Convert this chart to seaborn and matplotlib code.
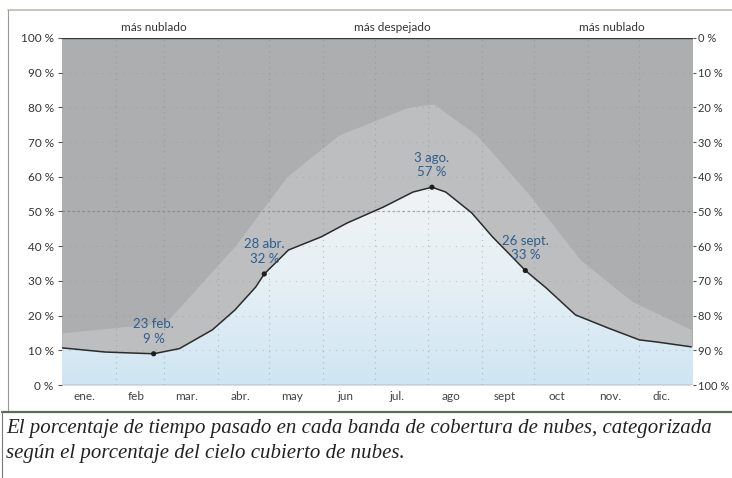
import numpy as np
import pandas as pd
import matplotlib
matplotlib.use("Agg")
import matplotlib.pyplot as plt
import seaborn as sns
from matplotlib.patches import Polygon

sns.set_theme(style="white")
plt.rcParams['font.family'] = ['Lato', 'DejaVu Sans']

# ---- data ----
days = [0, 25, 53, 68, 87, 100, 112, 117, 131, 150, 165, 186, 203, 214,
        222, 237, 249, 261, 268, 280, 297, 316, 334, 344, 364]
clear_pct = [10.7, 9.5, 9, 10.5, 15.9, 21.6, 28.2, 32, 38.9, 42.7, 46.7, 51.3,
             55.6, 57, 55.6, 49.6, 42.7, 36.6, 33, 28, 20.2, 16.4, 13, 12.4, 11]
# faint lighter band above the line (approximate)
band_days = [0, 60, 100, 130, 160, 200, 215, 240, 270, 300, 330, 364]
band_pct = [15, 18, 40, 60, 72, 80, 81, 72, 55, 36, 24, 16]

ann_days = [53, 117, 214, 268]
ann_pct = [9, 32, 57, 33]
ann_text = ["23 feb.\n9 %", "28 abr.\n32 %", "3 ago.\n57 %", "26 sept.\n33 %"]

month_days = [13, 43, 72, 103, 133, 164, 194, 225, 256, 286, 317, 347]
month_labels = ["ene.", "feb", "mar.", "abr.", "may", "jun", "jul.", "ago",
                "sept", "oct", "nov.", "dic."]
month_starts = [0, 31, 59, 90, 120, 151, 181, 212, 243, 273, 304, 334]
left_ticks = [0, 10, 20, 30, 40, 50, 60, 70, 80, 90, 100]
top_labels = ["más nublado", "más despejado", "más nublado"]
top_label_days = [53, 191, 318]
caption = ("El porcentaje de tiempo pasado en cada banda de cobertura de nubes, categorizada\n"
           "según el porcentaje del cielo cubierto de nubes.")

df = pd.DataFrame({"day": days, "pct": clear_pct})
ann_df = pd.DataFrame({"day": ann_days, "pct": ann_pct})

W, H = 732, 478
fig = plt.figure(figsize=(W / 100, H / 100), dpi=100)
fig.patch.set_facecolor("white")
ax = fig.add_axes([62 / W, 1 - 385 / H, (693 - 62) / W, (385 - 38) / H])
ax.set_xlim(0, 365)
ax.set_ylim(0, 100)

# background gray
ax.set_facecolor("#acaeaf")
# lighter mound band (subtle)
ax.fill_between(band_days, 0, band_pct, color="#bcbebf", lw=0, zorder=0.5)

# gradient below the line
grad = np.linspace(0, 1, 256).reshape(-1, 1)
cmap = matplotlib.colors.LinearSegmentedColormap.from_list(
    "sky", ["#cfe5f3", "#e6f0f5", "#f1f3f4"])
im = ax.imshow(grad, extent=[0, 365, 0, 60], origin="lower", aspect="auto",
               cmap=cmap, zorder=1)
poly_pts = [(0, 0)] + list(zip(days, clear_pct)) + [(365, clear_pct[-1]), (365, 0)]
poly = Polygon(poly_pts, closed=True, transform=ax.transData, facecolor="none", edgecolor="none")
ax.add_patch(poly)
im.set_clip_path(poly)

# faint grid
for d in month_starts[1:]:
    ax.axvline(d, color="#7f8283", lw=0.8, ls=(0, (1, 4)), alpha=0.45, zorder=1.5)
for v in range(10, 100, 10):
    ax.axhline(v, color="#8a8c8d", lw=0.8, ls=(0, (1, 5)), alpha=0.4, zorder=1.5)
ax.axhline(50, color="#6f7273", lw=0.9, ls=(0, (2, 2)), alpha=0.55, zorder=1.5)

# main line
sns.lineplot(data=df, x="day", y="pct", ax=ax, color="#2b2b2b", lw=1.1, zorder=3)
sns.scatterplot(data=ann_df, x="day", y="pct", ax=ax, color="#1e1e1e", s=14,
                edgecolor="none", zorder=4)
for d, p, t in zip(ann_days, ann_pct, ann_text):
    ax.annotate(t, (d, p), xytext=(0, 9), textcoords="offset pixels",
                ha="center", va="bottom", fontsize=9.5, color="#2f5d8c",
                linespacing=1.25, zorder=5)

# axes lines
ax.axhline(100, color="#3a3a3a", lw=1.0, zorder=4)
ax.axhline(0, color="#4a4a4a", lw=0.9, zorder=4)
for s in ax.spines.values():
    s.set_visible(False)

ax.set_xlabel("")
ax.set_ylabel("")
ax.set_xticks(month_days)
ax.set_xticklabels(month_labels, fontsize=8.5, color="#444444")
ax.set_yticks(left_ticks)
ax.set_yticklabels([f"{v} %" for v in left_ticks], fontsize=8.5, color="#333333")
ax.tick_params(axis="x", length=0, pad=4)
ax.tick_params(axis="y", length=3, width=0.8, color="#555555", pad=3, left=True)

ax2 = ax.twinx()
ax2.set_ylim(100, 0)
ax2.set_yticks(left_ticks)
ax2.set_yticklabels([f"{v} %" for v in left_ticks], fontsize=8, color="#333333")
ax2.tick_params(axis="y", length=2, width=0.8, color="#555555", pad=1.5, right=True)
for s in ax2.spines.values():
    s.set_visible(False)
ax2.grid(False)

for d, t in zip(top_label_days, top_labels):
    ax.text(d, 101.5, t, ha="center", va="bottom", fontsize=8.5, color="#333333")

# frame and caption
fig.add_artist(plt.Line2D([8 / W, 1], [1 - 10 / H] * 2, color="#b9bfae", lw=1.2))
fig.add_artist(plt.Line2D([8 / W] * 2, [1 - 10 / H, 1 - 410 / H], color="#9a9a9a", lw=0.8))
fig.add_artist(plt.Line2D([2 / W, 1], [1 - 412 / H] * 2, color="#5f6a58", lw=1.6))
fig.add_artist(plt.Line2D([2 / W] * 2, [1 - 412 / H, 0], color="#777777", lw=0.8))
fig.text(6 / W, 1 - 419 / H, caption, ha="left", va="top", fontsize=15,
         style="italic", family="Liberation Serif", color="#222222", linespacing=1.4)

fig.savefig("out.png", dpi=100)
